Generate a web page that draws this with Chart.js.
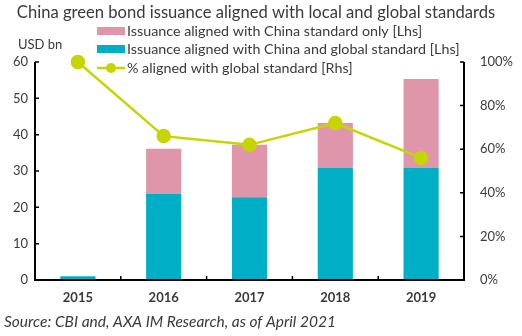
<!DOCTYPE html>
<html>
<head>
<meta charset="utf-8">
<script src="https://cdn.jsdelivr.net/npm/chart.js@4/dist/chart.umd.min.js"></script>
<style>
  html, body { margin: 0; padding: 0; background: #fff; }
  #wrap { width: 522px; height: 336px; }
</style>
</head>
<body>
<div id="wrap"><canvas id="greenBondChart" width="522" height="336"></canvas></div>
<script>
// Chart data
const years = ['2015', '2016', '2017', '2018', '2019'];
const chinaAndGlobal = [1, 23.7, 22.8, 30.8, 30.8];
const chinaOnly = [0, 12.4, 14.4, 12.4, 24.5];
const pctGlobal = [100, 66, 62, 72, 56];
const leftTicks = [0, 10, 20, 30, 40, 50, 60];
const rightTicks = [0, 20, 40, 60, 80, 100];

const FONT = 'Lato, "Open Sans", sans-serif';
const TEXT = '#3a3a3a';
const PINK = '#e096aa';
const TEAL = '#00afc6';
const LIME = '#c6d500';

// Titles, legend, axis unit, source and inward tick marks
const decorations = {
    id: 'decorations',
    afterDraw(chart) {
        const c = chart.ctx;
        const { left, right, top, bottom } = chart.chartArea;
        c.save();

        c.fillStyle = TEXT;
        c.textBaseline = 'middle';
        c.textAlign = 'center';
        c.font = '16.6px ' + FONT;
        c.fillText('China green bond issuance aligned with local and global standards', 256, 13);

        // legend
        c.textAlign = 'left';
        c.font = '14.3px ' + FONT;
        const rows = [31, 49, 68];
        chart.data.datasets.forEach(function (ds) {
            const y = rows[ds.legendRow];
            if (ds.type === 'line') {
                c.strokeStyle = ds.borderColor;
                c.lineWidth = 2.5;
                c.beginPath();
                c.moveTo(97, y);
                c.lineTo(125, y);
                c.stroke();
                c.fillStyle = ds.borderColor;
                c.beginPath();
                c.arc(111, y, 5, 0, Math.PI * 2);
                c.fill();
            } else {
                c.fillStyle = ds.backgroundColor;
                c.fillRect(97, y - 4, 28, 8);
            }
            c.fillStyle = TEXT;
            c.fillText(ds.label, 127, y);
        });

        c.font = '13px ' + FONT;
        c.fillText('USD bn', 18, 45);

        c.font = 'italic 15.5px ' + FONT;
        c.fillText('Source: CBI and, AXA IM Research, as of April 2021', 4, 322);

        // tick marks pointing into the plot
        c.strokeStyle = '#000';
        c.lineWidth = 1.5;
        const yl = chart.scales.y;
        const yr = chart.scales.y1;
        const x = chart.scales.x;
        c.beginPath();
        leftTicks.forEach(function (v) {
            const p = yl.getPixelForValue(v);
            c.moveTo(left, p);
            c.lineTo(left + 4, p);
        });
        rightTicks.forEach(function (v) {
            const p = yr.getPixelForValue(v);
            c.moveTo(right, p);
            c.lineTo(right - 4, p);
        });
        for (let i = 0; i < years.length - 1; i++) {
            const p = (x.getPixelForValue(i) + x.getPixelForValue(i + 1)) / 2;
            c.moveTo(p, bottom);
            c.lineTo(p, bottom - 4);
        }
        c.stroke();

        // axis lines
        c.lineWidth = 2;
        c.beginPath();
        c.moveTo(left, top);
        c.lineTo(left, bottom);
        c.lineTo(right, bottom);
        c.lineTo(right, top);
        c.stroke();
        c.restore();
    }
};

new Chart(document.getElementById('greenBondChart'), {
    data: {
        labels: years,
        datasets: [{
            type: 'line',
            label: '% aligned with global standard [Rhs]',
            data: pctGlobal,
            yAxisID: 'y1',
            borderColor: LIME,
            backgroundColor: LIME,
            borderWidth: 2.5,
            pointRadius: 6,
            pointHoverRadius: 6,
            tension: 0,
            clip: false,
            order: 0,
            legendRow: 2
        }, {
            type: 'bar',
            label: 'Issuance aligned with China and global standard [Lhs]',
            data: chinaAndGlobal,
            backgroundColor: TEAL,
            categoryPercentage: 1,
            barPercentage: 0.41,
            order: 1,
            legendRow: 1
        }, {
            type: 'bar',
            label: 'Issuance aligned with China standard only [Lhs]',
            data: chinaOnly,
            backgroundColor: PINK,
            categoryPercentage: 1,
            barPercentage: 0.41,
            order: 2,
            legendRow: 0
        }]
    },
    options: {
        responsive: false,
        animation: false,
        layout: { padding: { top: 62, left: 0, right: 0, bottom: 0 } },
        plugins: { legend: { display: false }, title: { display: false }, tooltip: { enabled: false } },
        scales: {
            x: {
                stacked: true,
                grid: { display: false, drawTicks: false },
                border: { display: false },
                ticks: { color: TEXT, font: { family: FONT, size: 13, weight: 'bold' }, padding: 10 },
                afterFit(s) { s.height = 56; }
            },
            y: {
                stacked: true,
                position: 'left',
                min: 0, max: 60,
                afterBuildTicks(s) { s.ticks = leftTicks.map(v => ({ value: v })); },
                grid: { display: false, drawTicks: false },
                border: { display: false },
                ticks: { color: TEXT, font: { family: FONT, size: 13 }, padding: 7 },
                afterFit(s) { s.width = 35; }
            },
            y1: {
                position: 'right',
                min: 0, max: 100,
                afterBuildTicks(s) { s.ticks = rightTicks.map(v => ({ value: v })); },
                grid: { display: false, drawTicks: false },
                border: { display: false },
                ticks: { color: TEXT, font: { family: FONT, size: 13 }, padding: 16, callback: v => v + '%' },
                afterFit(s) { s.width = 58; }
            }
        }
    },
    plugins: [decorations]
});
</script>
</body>
</html>
